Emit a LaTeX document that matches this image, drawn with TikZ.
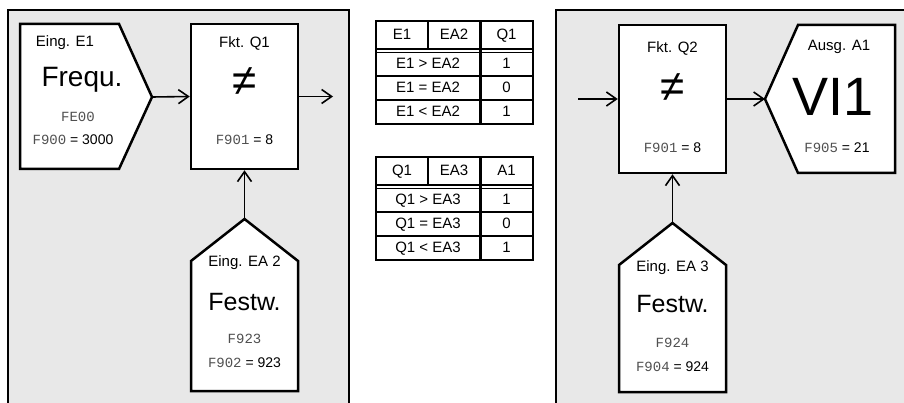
\documentclass[tikz,border=0pt]{standalone}
\usepackage{fontspec}
\setmainfont{Liberation Sans}
\newfontfamily\segfont{Liberation Mono}
\usetikzlibrary{arrows.meta,positioning}
\definecolor{panelgray}{RGB}{232,232,232}
\definecolor{seggray}{RGB}{80,80,80}
\newcommand{\sg}[1]{{\color{seggray}\segfont #1}}
\tikzset{
  >={Straight Barb[length=10pt,width=14pt]},
  panel/.style={draw=black,line width=2.8pt,fill=panelgray},
  blk/.style={draw=black,line width=2.5pt,fill=white},
  fkt/.style={blk,minimum width=107,minimum height=#1},
  fkt/.default=145,
  flow/.style={->,line width=1.6pt},
  lbl/.style={font=\fontsize{15}{18}\selectfont,inner sep=0},
  big/.style={font=\fontsize{#1}{#1}\selectfont,inner sep=0},
  big/.default=27,
  val/.style={font=\fontsize{14}{16}\selectfont,inner sep=0},
  seg/.style={font=\segfont\fontsize{14}{16}\selectfont,text=seggray,inner sep=0},
  cell/.style={font=\fontsize{15}{18}\selectfont,inner sep=0,text height=11,text depth=1},
  tline/.style={line width=2pt},
}
\begin{document}
\begin{tikzpicture}[x=1pt,y=-1pt]
  \path[use as bounding box,fill=white] (0,0) rectangle (904,403);
  % panels
  \draw[panel] (8,412) |- (349,10) -- (349,412);
  \draw[panel] (556,412) |- (912,10) -- (912,412);

  % left: E1 -> Q1 <- EA2
  \draw[blk] (20,24) -- (119,24) -- (152,97) -- (119,169) -- (20,169) -- cycle;
  \coordinate (e1tip) at (152,97);
  \node[lbl] (e1name) at (65,43) {Eing. E1};
  \node[big=28] (e1type) at (82,80) {Frequ.};
  \node[seg] (e1code) at (78,117) {FE00};
  \node[val] (e1par) at (73,140) {\sg{F900} = 3000};

  \node[fkt] (q1) at (244.5,96.5) {};
  \node[lbl] (q1name) at (244.5,43) {Fkt. Q1};
  \node[big=44] (q1op) at (244.5,82) {≠};
  \node[val] (q1par) at (244.5,140) {\sg{F901} = 8};
  \coordinate (q1out) at (333,96.5);

  \draw[blk] (191,391) -- (191,261) -- (244.5,219) -- (298,261) -- (298,391) -- cycle;
  \coordinate (ea2tip) at (244.5,219);
  \node[lbl] (ea2name) at (244.5,263) {Eing. EA 2};
  \node[big=25] (ea2type) at (244.5,302) {Festw.};
  \node[seg] (ea2code) at (244.5,339) {F923};
  \node[val] (ea2par) at (244.5,363) {\sg{F902} = 923};

  \draw[flow] (e1tip) -- (q1.west);
  \draw[flow] (q1.east) -- (q1out);
  \draw[flow] (ea2tip) -- (q1.south);

  % truth tables
  \foreach \t/\oy/\ca/\cb/\cc in {1/0/E1/EA2/Q1,2/136/Q1/EA3/A1}{
    \node[cell] (h\t-a) at (402,35+\oy) {\ca};
    \node[cell] (h\t-b) at (454,35+\oy) {\cb};
    \node[cell] (h\t-c) at (506.5,35+\oy) {\cc};
    \foreach \r/\op/\v in {1/>/1,2/=/0,3/</1}{
      \node[cell] (r\t-\r) at (428,40+24*\r+\oy) {\ca{} \op{} \cb};
      \node[cell] (v\t-\r) at (506.5,40+24*\r+\oy) {\v};
    }
    \draw[tline] (376,21+\oy) rectangle (533,124+\oy);
    \draw[tline] (428,21+\oy) -- (428,49+\oy);
    \draw[line width=3pt] (480,21+\oy) -- (480,124+\oy);
    \draw[tline] (376,49+\oy) -- (533,49+\oy);
    \draw[line width=1.2pt] (376,52.5+\oy) -- (533,52.5+\oy);
    \draw[tline] (376,76+\oy) -- (533,76+\oy) (376,100+\oy) -- (533,100+\oy);
  }

  % right: Q2 -> A1, EA3 -> Q2
  \coordinate (q2in) at (578,99);
  \node[fkt=148] (q2) at (672.5,99) {};
  \node[lbl] (q2name) at (672.5,48) {Fkt. Q2};
  \node[big=44] (q2op) at (672.5,88) {≠};
  \node[val] (q2par) at (672.5,148) {\sg{F901} = 8};

  \draw[blk] (765,99) -- (798,25) -- (895,25) -- (895,173) -- (798,173) -- cycle;
  \coordinate (a1tip) at (765,99);
  \node[lbl] (a1name) at (839,47) {Ausg. A1};
  \node[big=54] (a1type) at (833,97) {VI1};
  \node[val] (a1par) at (837,148) {\sg{F905} = 21};

  \draw[blk] (619,392) -- (619,265) -- (672.5,223) -- (726,265) -- (726,392) -- cycle;
  \coordinate (ea3tip) at (672.5,223);
  \node[lbl] (ea3name) at (672.5,268) {Eing. EA 3};
  \node[big=25] (ea3type) at (672.5,304) {Festw.};
  \node[seg] (ea3code) at (672.5,343) {F924};
  \node[val] (ea3par) at (672.5,367) {\sg{F904} = 924};

  \draw[flow] (q2in) -- (q2.west);
  \draw[flow] (q2.east) -- (a1tip);
  \draw[flow] (ea3tip) -- (q2.south);
\end{tikzpicture}
\end{document}
